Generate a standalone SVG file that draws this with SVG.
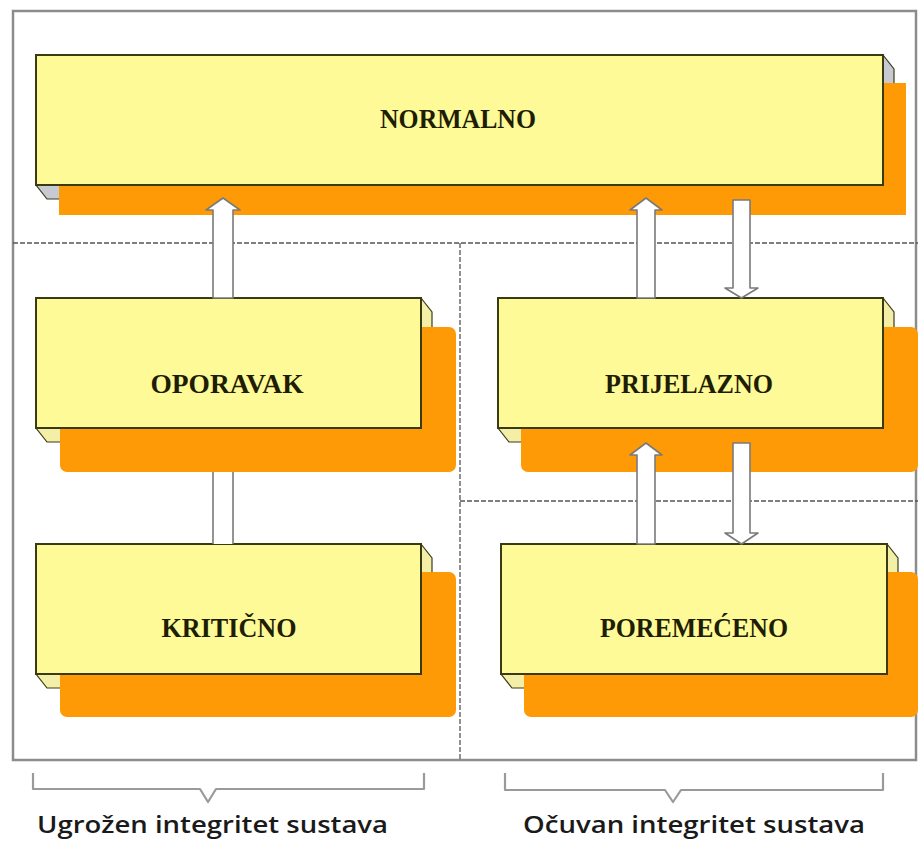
<svg xmlns="http://www.w3.org/2000/svg" width="918" height="845" viewBox="0 0 918 845">
<style>
.frame{fill:none;stroke:#8c8c8c;stroke-width:2.5}
.dash{fill:none;stroke:#555;stroke-width:1.3;stroke-dasharray:5 2}
.depth{fill:#f4efa6;stroke:#3b3b18;stroke-width:1.2}
.depthg{fill:#c8cad2;stroke:#3b3b18;stroke-width:1.2}
.shadow{fill:#fd9a05}
.face{fill:#fefa98;stroke:#3a3a14;stroke-width:2}
.lbl{font-family:"Liberation Serif","Times New Roman",serif;font-weight:bold;font-size:28px;fill:#1e1e04;text-anchor:middle}
.arrow{fill:#fff;stroke:#7a7a7a;stroke-width:1.6;stroke-linejoin:round}
.brace{fill:none;stroke:#9a9a9a;stroke-width:2.2;stroke-linejoin:round}
.cap{font-family:"Open Sans","DejaVu Sans",sans-serif;font-weight:600;font-size:24px;fill:#1a1a1a}
</style>
<rect width="918" height="845" fill="#fff"/>
<g id="frame">
<rect class="frame" x="13" y="11" width="903" height="749"/>
<line class="dash" x1="13" y1="243" x2="918" y2="243"/>
<line class="dash" x1="460" y1="243" x2="460" y2="760"/>
<line class="dash" x1="460" y1="501" x2="918" y2="501"/>
</g>
<g id="normalno">
<polygon class="depthg" points="36,55 883,55 894,69 894,199 47,199 36,185"/>
<rect class="shadow" x="59" y="83" width="847" height="132"/>
<rect class="face" x="36" y="55" width="847" height="130"/>
<text class="lbl" x="458" y="128" textLength="156" lengthAdjust="spacingAndGlyphs">NORMALNO</text>
</g>
<g id="prijelazno">
<polygon class="depth" points="498,298 883,298 894,312 894,442 509,442 498,428"/>
<rect class="shadow" x="521" y="327" width="397" height="145" rx="7"/>
<rect class="face" x="498" y="298" width="385" height="130"/>
<text class="lbl" x="689" y="393" textLength="168" lengthAdjust="spacingAndGlyphs">PRIJELAZNO</text>
</g>
<g id="oporavak">
<polygon class="depth" points="36,298 421,298 432,312 432,442 47,442 36,428"/>
<rect class="shadow" x="60" y="327" width="396" height="145" rx="7"/>
<rect class="face" x="36" y="298" width="385" height="130"/>
<text class="lbl" x="227" y="393" textLength="153" lengthAdjust="spacingAndGlyphs">OPORAVAK</text>
</g>
<g id="kriticno">
<polygon class="depth" points="36,544 421,544 432,558 432,688 47,688 36,674"/>
<rect class="shadow" x="60" y="572" width="396" height="145" rx="7"/>
<rect class="face" x="36" y="544" width="385" height="130"/>
<text class="lbl" x="229" y="637" textLength="135" lengthAdjust="spacingAndGlyphs">KRITIČNO</text>
</g>
<g id="poremeceno">
<polygon class="depth" points="501,544 887,544 898,558 898,688 512,688 501,674"/>
<rect class="shadow" x="524" y="572" width="394" height="145" rx="7"/>
<rect class="face" x="501" y="544" width="386" height="130"/>
<text class="lbl" x="694" y="637" textLength="188" lengthAdjust="spacingAndGlyphs">POREMEĆENO</text>
</g>
<g id="connectors">
<polygon class="arrow" points="213,298 213,210 206,210 223,198 240,210 233,210 233,298"/>
<path d="M213,472 V544 H233 V472 Z" fill="#fff"/>
<path d="M213,472 V544 M233,472 V544" class="arrow"/>
<polygon class="arrow" points="637,298 637,210 630,210 646,198 662,210 655,210 655,298"/>
<polygon class="arrow" points="733,200 750,200 750,288 758,288 741.5,298 725,288 733,288"/>
<polygon class="arrow" points="637,544 637,455 630,455 646,443 662,455 655,455 655,544"/>
<polygon class="arrow" points="733,443 750,443 750,533 758,533 741.5,544 725,533 733,533"/>
</g>
<g id="captions">
<path class="brace" d="M33,773 V789 H200 L208,802 L216,789 H424 V773"/>
<path class="brace" d="M505,773 V790 H665 L673,802 L681,790 H883 V773"/>
<text class="cap" x="37" y="833" textLength="351" lengthAdjust="spacingAndGlyphs">Ugrožen integritet sustava</text>
<text class="cap" x="523" y="833" textLength="342" lengthAdjust="spacingAndGlyphs">Očuvan integritet sustava</text>
</g>
</svg>
